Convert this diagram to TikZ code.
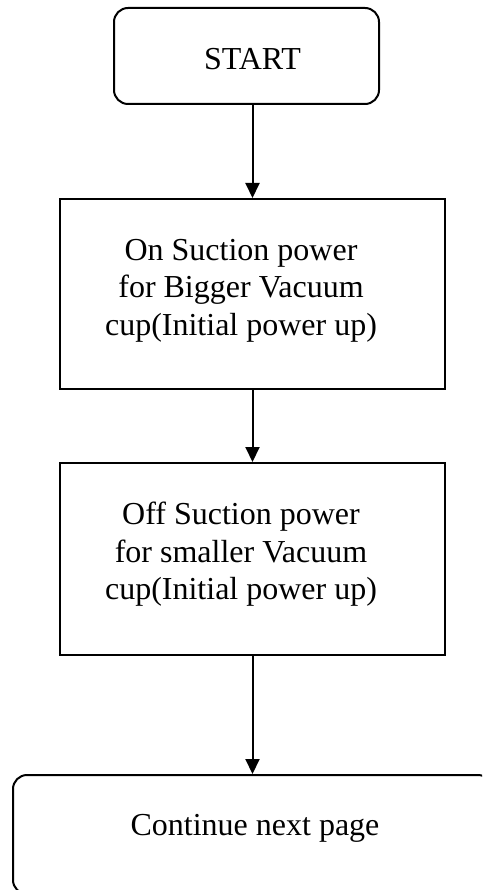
\documentclass[tikz,border=0pt]{standalone}
\usepackage{fontspec}
\setmainfont{Liberation Serif}
\usetikzlibrary{arrows.meta}
\begin{document}
\begin{tikzpicture}[x=1pt, y=-1pt, line width=2pt,
  every node/.style={font=\fontsize{32}{37.5}\selectfont},
  rbox/.style={draw, rectangle, rounded corners=14pt, inner sep=0pt},
  pbox/.style={draw, rectangle, inner sep=0pt, minimum width=385pt},
  label text/.style={align=center, inner sep=0pt},
  flow/.style={-{Triangle[width=14pt,length=15pt]}}]
  % page frame
  \useasboundingbox (0,0) rectangle (482,890);
  \clip (0,0) rectangle (482,890);
  \fill[white] (0,0) rectangle (482,890);

  % boxes
  \node[rbox, minimum width=265pt, minimum height=96pt] (start) at (246.5,56) {};
  \node[pbox, minimum height=190pt] (b2) at (252.5,294) {};
  \node[pbox, minimum height=192pt] (b3) at (252.5,559) {};
  \node[rbox, minimum width=479pt, minimum height=119pt] (cont) at (252.5,834.5) {};

  % texts
  \node[label text, anchor=base] (tstart) at (252.5,70) {START};
  \node[label text] (t2) at (241,290.5) {On Suction power\\for Bigger Vacuum\\cup(Initial power up)};
  \node[label text] (t3) at (241,554.5) {Off Suction power\\for smaller Vacuum\\cup(Initial power up)};
  \node[label text, anchor=base] (tcont) at (255,835) {Continue next page};

  % connectors
  \draw[flow] (start.south -| b2.north) -- (b2.north);
  \draw[flow] (b2.south) -- (b3.north);
  \draw[flow] (b3.south) -- (cont.north);
\end{tikzpicture}
\end{document}
